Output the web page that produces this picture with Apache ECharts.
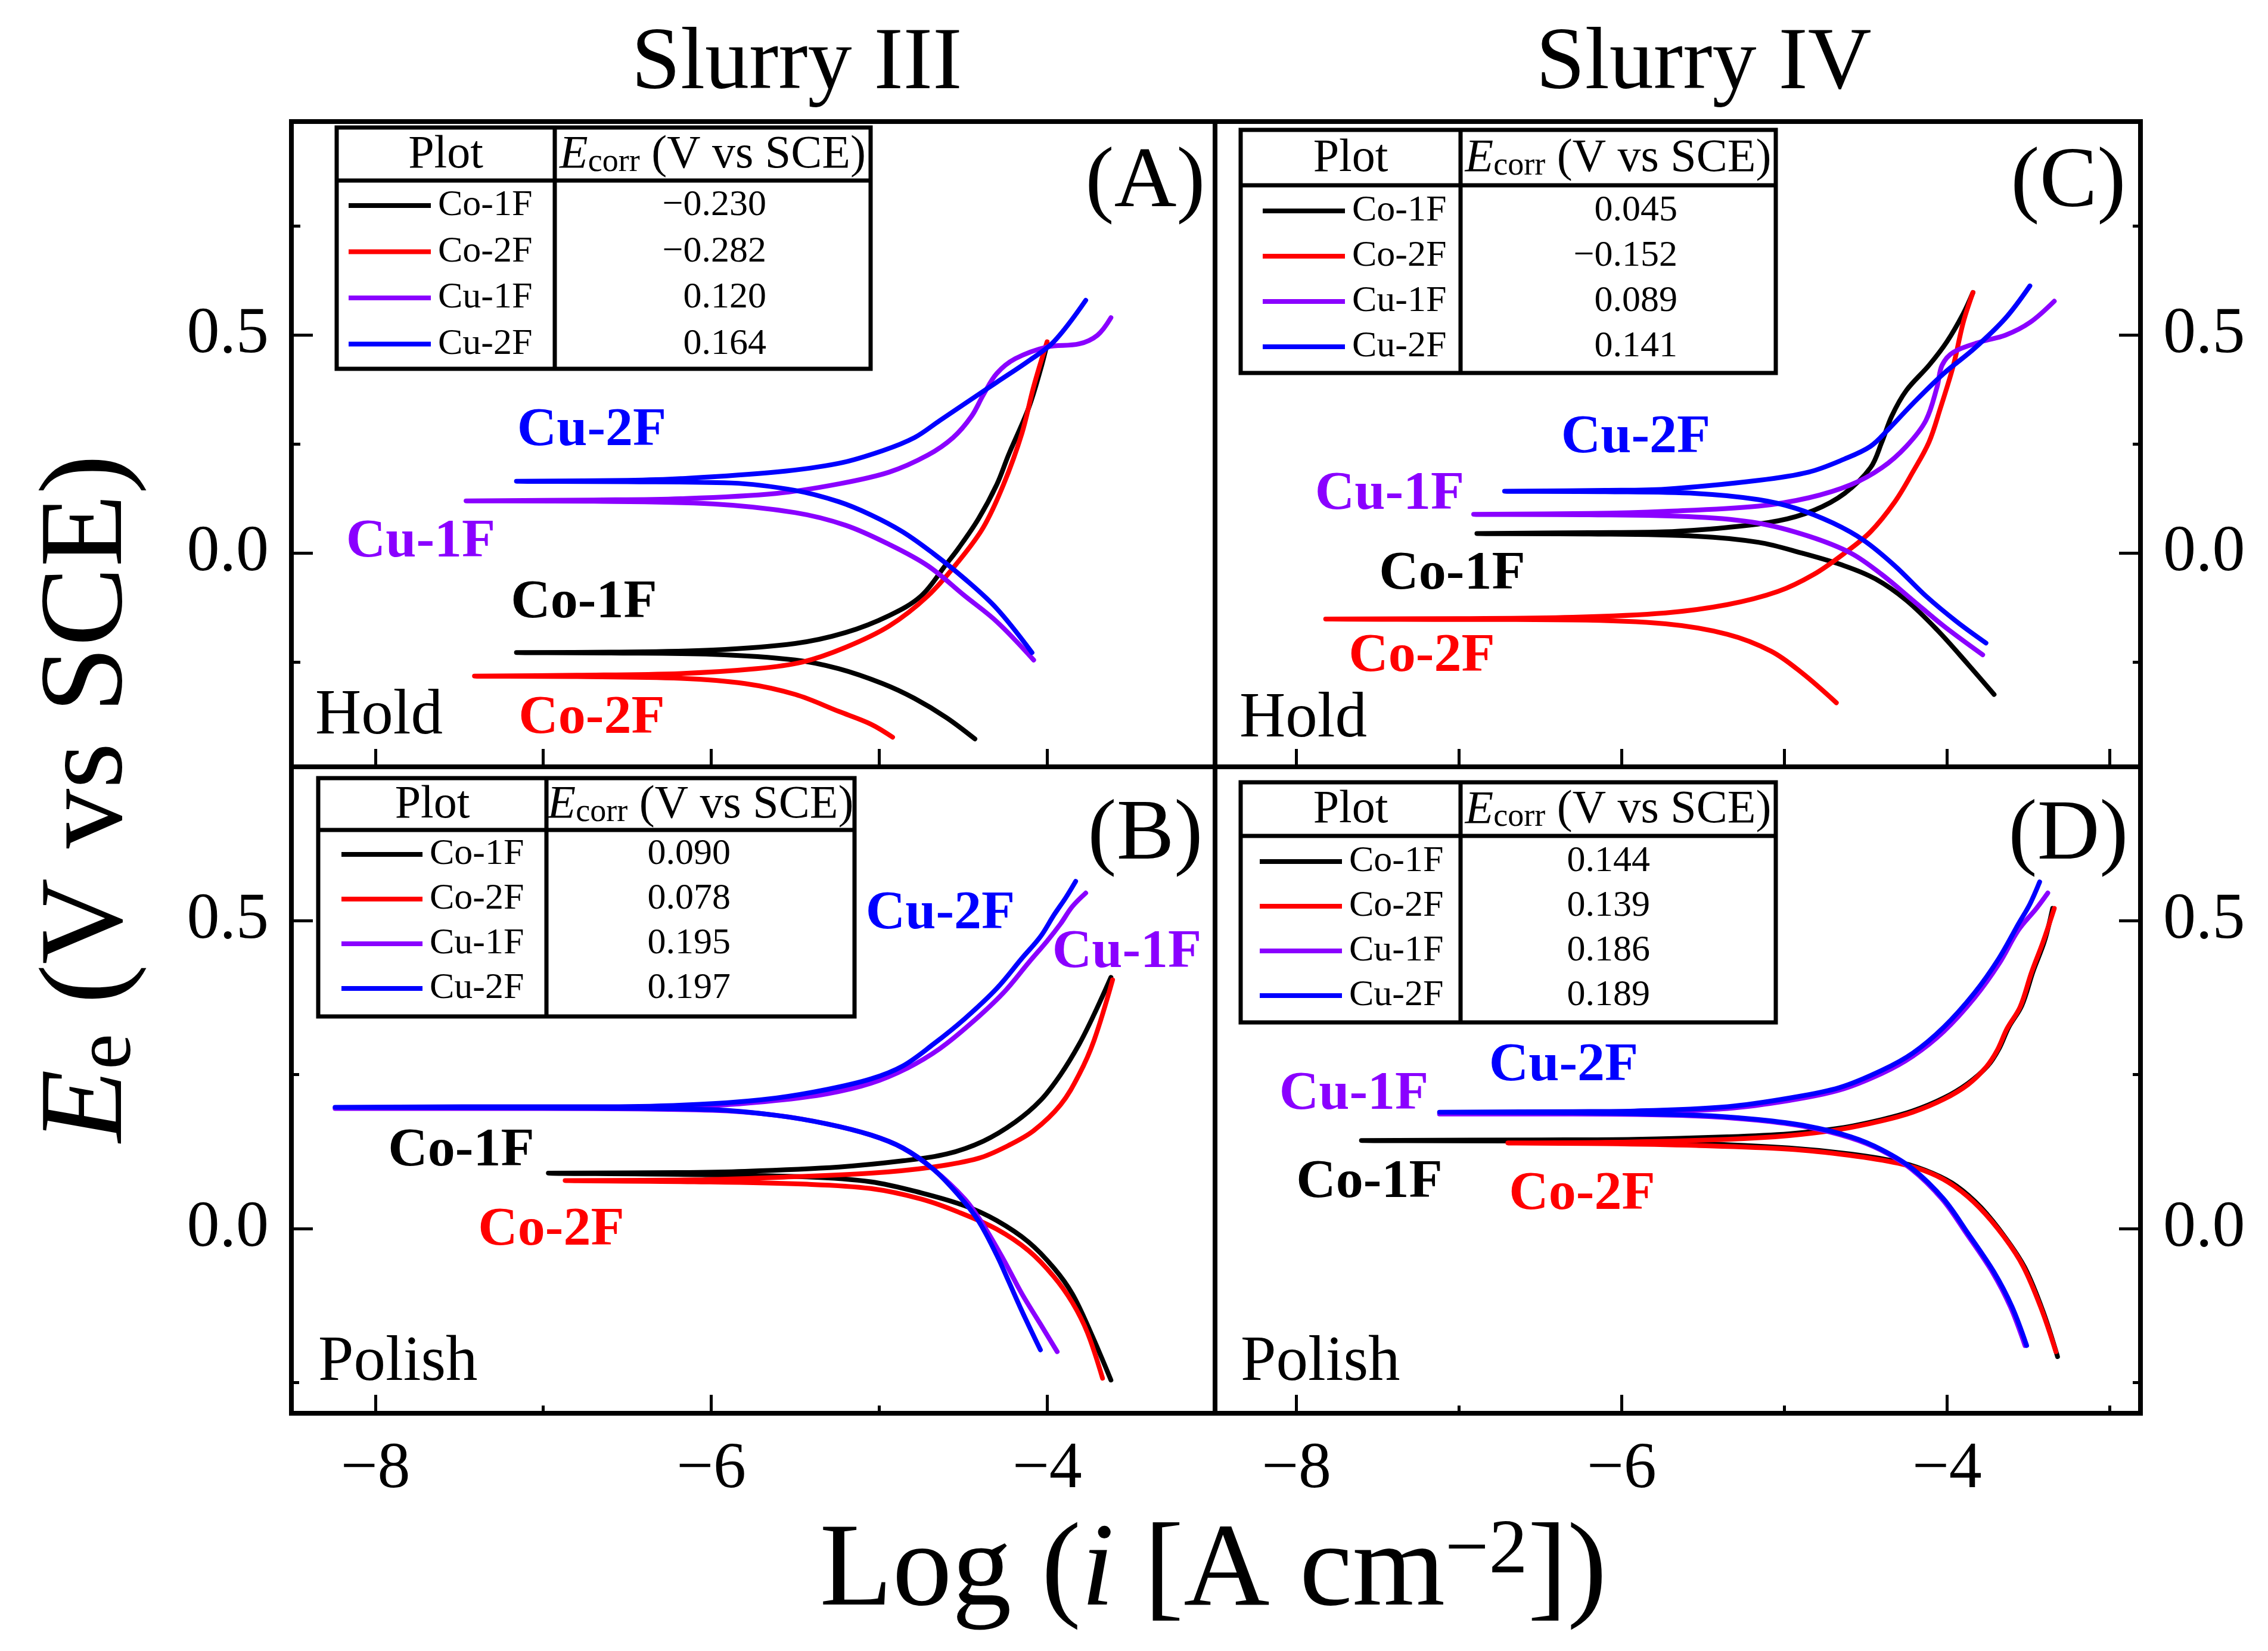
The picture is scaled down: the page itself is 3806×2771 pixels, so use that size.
<!DOCTYPE html>
<html><head><meta charset="utf-8">
<script src="https://cdn.jsdelivr.net/npm/echarts@6/dist/echarts.min.js"></script>
<style>html,body{margin:0;padding:0;background:#fff}#c{width:3806px;height:2771px}</style>
</head><body><div id="c"></div>
<script>
const FONT = '"Liberation Serif","Times New Roman",serif';

// ---- tick values ----
const xTicksAll = [-8, -7, -6, -5, -4, -3];
const xTicksMajor = [-8, -6, -4];
const xTicksMinor = [-7, -5, -3];
const yTicksMajor = [0, 0.5];
const yTicksMinorTop = [-0.25, 0.25, 0.75];
const yTicksMinorBottom = [-0.25, 0.25];

// ---- legend / table ----
const curveNames = ['Co-1F', 'Co-2F', 'Cu-1F', 'Cu-2F'];
const curveColors = ['#000000', '#ff0000', '#8a00ff', '#0000ff'];
const ecorrA = [-0.230, -0.282, 0.120, 0.164];
const ecorrB = [0.090, 0.078, 0.195, 0.197];
const ecorrC = [0.045, -0.152, 0.089, 0.141];
const ecorrD = [0.144, 0.139, 0.186, 0.189];

// ---- curves: [log i, E] from cathodic end -> Ecorr -> anodic end ----
// (A) Slurry III, Hold
const A_Co1F = [[-4.43,-0.426],[-4.60,-0.377],[-4.79,-0.333],[-4.98,-0.299],[-5.24,-0.265],[-5.50,-0.245],[-5.99,-0.232],[-6.6,-0.229],[-7.16,-0.228],
  [-6.6,-0.227],[-5.99,-0.222],[-5.50,-0.207],[-5.20,-0.182],[-4.94,-0.143],[-4.75,-0.098],[-4.60,-0.025],[-4.53,0.01],[-4.41,0.078],[-4.30,0.157],[-4.23,0.225],[-4.11,0.333],[-4.04,0.42],[-4.0,0.48]];
const A_Co2F = [[-4.92,-0.422],[-5.05,-0.392],[-5.24,-0.363],[-5.50,-0.324],[-5.80,-0.299],[-6.18,-0.287],[-6.8,-0.283],[-7.41,-0.282],
  [-6.8,-0.280],[-6.18,-0.276],[-5.73,-0.265],[-5.46,-0.25],[-5.20,-0.216],[-4.94,-0.167],[-4.71,-0.098],[-4.53,-0.02],[-4.38,0.059],[-4.26,0.157],[-4.15,0.275],[-4.08,0.382],[-4.0,0.485]];
const A_Cu1F = [[-4.08,-0.245],[-4.30,-0.157],[-4.49,-0.098],[-4.71,-0.029],[-4.94,0.02],[-5.20,0.064],[-5.50,0.093],[-5.99,0.113],[-6.7,0.119],[-7.46,0.12],
  [-6.7,0.122],[-6.18,0.125],[-5.615,0.137],[-5.24,0.159],[-4.94,0.186],[-4.71,0.225],[-4.56,0.265],[-4.45,0.314],[-4.38,0.363],[-4.30,0.412],[-4.19,0.446],[-4.0,0.473],[-3.81,0.48],[-3.70,0.50],[-3.62,0.54]];
const A_Cu2F = [[-4.09,-0.228],[-4.30,-0.127],[-4.49,-0.059],[-4.68,0.0],[-4.86,0.049],[-5.05,0.088],[-5.24,0.118],[-5.50,0.144],[-5.88,0.161],[-6.5,0.164],[-7.16,0.165],
  [-6.5,0.167],[-6.18,0.171],[-5.615,0.186],[-5.24,0.206],[-4.98,0.235],[-4.79,0.265],[-4.64,0.304],[-4.49,0.343],[-4.30,0.392],[-4.11,0.441],[-3.96,0.485],[-3.77,0.58]];

// (B) Slurry III, Polish
const B_Co1F = [[-3.62,-0.246],[-3.74,-0.169],[-3.85,-0.106],[-3.96,-0.064],[-4.11,-0.022],[-4.30,0.013],[-4.49,0.037],[-4.75,0.058],[-5.05,0.076],[-5.43,0.084],[-6.2,0.088],[-6.97,0.09],
  [-6.2,0.091],[-5.80,0.093],[-5.24,0.10],[-4.86,0.11],[-4.60,0.121],[-4.38,0.142],[-4.19,0.173],[-4.04,0.208],[-3.92,0.25],[-3.81,0.299],[-3.72,0.348],[-3.62,0.408]];
const B_Co2F = [[-3.67,-0.243],[-3.76,-0.169],[-3.85,-0.12],[-3.96,-0.078],[-4.11,-0.036],[-4.30,-0.001],[-4.53,0.027],[-4.75,0.048],[-5.05,0.065],[-5.43,0.072],[-6.1,0.076],[-6.87,0.078],
  [-6.1,0.079],[-5.615,0.083],[-5.05,0.09],[-4.68,0.10],[-4.41,0.114],[-4.23,0.135],[-4.08,0.159],[-3.92,0.201],[-3.81,0.25],[-3.72,0.306],[-3.61,0.404]];
const B_Cu1F = [[-3.94,-0.20],[-4.04,-0.155],[-4.15,-0.106],[-4.26,-0.05],[-4.38,0.006],[-4.49,0.048],[-4.68,0.097],[-4.86,0.131],[-5.05,0.152],[-5.31,0.170],[-5.615,0.184],[-5.99,0.192],[-7.0,0.195],[-8.24,0.195],
  [-7.0,0.196],[-5.99,0.20],[-5.615,0.208],[-5.31,0.219],[-5.05,0.236],[-4.83,0.261],[-4.64,0.292],[-4.45,0.334],[-4.26,0.383],[-4.11,0.432],[-4.0,0.467],[-3.92,0.495],[-3.85,0.523],[-3.77,0.545]];
const B_Cu2F = [[-4.04,-0.197],[-4.15,-0.134],[-4.23,-0.085],[-4.30,-0.043],[-4.41,0.013],[-4.53,0.055],[-4.68,0.097],[-4.86,0.131],[-5.05,0.152],[-5.31,0.170],[-5.615,0.184],[-5.99,0.193],[-7.0,0.196],[-8.24,0.197],
  [-7.0,0.198],[-6.55,0.198],[-5.99,0.203],[-5.615,0.212],[-5.31,0.226],[-5.05,0.243],[-4.86,0.264],[-4.68,0.299],[-4.49,0.341],[-4.30,0.390],[-4.15,0.439],[-4.04,0.474],[-3.96,0.509],[-3.89,0.537],[-3.83,0.564]];

// (C) Slurry IV, Hold
const C_Co1F = [[-3.71,-0.324],[-3.87,-0.255],[-4.06,-0.176],[-4.25,-0.108],[-4.44,-0.059],[-4.63,-0.029],[-4.89,0.0],[-5.16,0.025],[-5.54,0.039],[-6.2,0.044],[-6.89,0.045],
  [-6.2,0.047],[-5.73,0.049],[-5.35,0.059],[-5.04,0.074],[-4.82,0.098],[-4.63,0.137],[-4.47,0.196],[-4.40,0.255],[-4.34,0.314],[-4.25,0.373],[-4.11,0.431],[-4.0,0.485],[-3.90,0.549],[-3.84,0.598]];
const C_Co2F = [[-4.68,-0.343],[-4.89,-0.275],[-5.08,-0.225],[-5.35,-0.186],[-5.73,-0.162],[-6.30,-0.153],[-7.0,-0.152],[-7.82,-0.151],
  [-7.0,-0.150],[-6.30,-0.147],[-5.73,-0.137],[-5.35,-0.118],[-5.04,-0.088],[-4.82,-0.049],[-4.63,0.0],[-4.47,0.049],[-4.32,0.118],[-4.21,0.186],[-4.11,0.255],[-4.04,0.333],[-3.96,0.431],[-3.90,0.529],[-3.84,0.598]];
const C_Cu1F = [[-3.78,-0.233],[-4.02,-0.167],[-4.21,-0.108],[-4.40,-0.049],[-4.59,0.0],[-4.85,0.039],[-5.16,0.069],[-5.54,0.083],[-6.2,0.088],[-6.91,0.089],
  [-6.2,0.091],[-5.73,0.096],[-5.16,0.108],[-4.85,0.127],[-4.59,0.157],[-4.40,0.196],[-4.25,0.245],[-4.13,0.304],[-4.06,0.382],[-4.03,0.431],[-3.96,0.461],[-3.79,0.485],[-3.64,0.50],[-3.49,0.529],[-3.34,0.578]];
const C_Cu2F = [[-3.76,-0.206],[-3.94,-0.157],[-4.13,-0.098],[-4.32,-0.029],[-4.51,0.029],[-4.70,0.069],[-4.93,0.103],[-5.16,0.123],[-5.54,0.137],[-6.1,0.141],[-6.72,0.142],
  [-6.1,0.144],[-5.73,0.147],[-5.16,0.167],[-4.85,0.186],[-4.63,0.216],[-4.47,0.245],[-4.36,0.284],[-4.21,0.343],[-4.02,0.412],[-3.83,0.47],[-3.64,0.539],[-3.49,0.613]];

// (D) Slurry IV, Polish
const D_Co1F = [[-3.32,-0.208],[-3.41,-0.134],[-3.52,-0.064],[-3.64,-0.015],[-3.79,0.034],[-3.94,0.069],[-4.09,0.09],[-4.28,0.107],[-4.59,0.121],[-4.97,0.131],[-5.54,0.138],[-6.5,0.142],[-7.60,0.143],
  [-6.5,0.144],[-5.92,0.145],[-5.35,0.149],[-4.97,0.154],[-4.66,0.163],[-4.40,0.177],[-4.21,0.191],[-4.02,0.212],[-3.87,0.236],[-3.75,0.264],[-3.68,0.292],[-3.62,0.327],[-3.54,0.362],[-3.47,0.418],[-3.40,0.467],[-3.35,0.52]];
const D_Co2F = [[-3.33,-0.20],[-3.42,-0.13],[-3.53,-0.062],[-3.65,-0.013],[-3.80,0.034],[-3.95,0.068],[-4.10,0.09],[-4.30,0.106],[-4.60,0.119],[-4.97,0.129],[-5.54,0.135],[-6.1,0.138],[-6.70,0.139],
  [-6.1,0.140],[-5.35,0.145],[-4.97,0.151],[-4.66,0.161],[-4.40,0.175],[-4.21,0.189],[-4.02,0.21],[-3.87,0.234],[-3.76,0.262],[-3.69,0.29],[-3.63,0.325],[-3.55,0.36],[-3.48,0.416],[-3.41,0.465],[-3.34,0.52]];
const D_Cu1F = [[-3.52,-0.19],[-3.61,-0.127],[-3.72,-0.071],[-3.88,-0.008],[-4.03,0.048],[-4.22,0.097],[-4.41,0.128],[-4.60,0.148],[-4.86,0.165],[-5.17,0.176],[-5.55,0.183],[-6.3,0.186],[-7.12,0.186],
  [-6.3,0.187],[-5.92,0.188],[-5.35,0.195],[-4.97,0.208],[-4.66,0.225],[-4.40,0.252],[-4.21,0.280],[-4.02,0.320],[-3.83,0.375],[-3.68,0.43],[-3.56,0.485],[-3.45,0.52],[-3.38,0.545]];
const D_Cu2F = [[-3.51,-0.19],[-3.60,-0.127],[-3.71,-0.071],[-3.87,-0.008],[-4.02,0.048],[-4.21,0.097],[-4.40,0.128],[-4.59,0.149],[-4.85,0.166],[-5.16,0.177],[-5.54,0.184],[-6.3,0.188],[-7.12,0.189],
  [-6.3,0.190],[-5.92,0.191],[-5.35,0.198],[-4.97,0.212],[-4.66,0.229],[-4.40,0.257],[-4.21,0.285],[-4.02,0.327],[-3.83,0.383],[-3.68,0.439],[-3.56,0.495],[-3.49,0.527],[-3.43,0.563]];

// ---------------------------------------------------------------
const chart = echarts.init(document.getElementById('c'), null, {renderer: 'canvas'});

const GL = 489, GM = 2039, GR = 3592, GT = 204, GMID = 1287, GB = 2372;
const grids = [
  {left: GL, top: GT, width: GM - GL, height: GMID - GT},     // A
  {left: GL, top: GMID, width: GM - GL, height: GB - GMID},   // B
  {left: GM, top: GT, width: GR - GM, height: GMID - GT},     // C
  {left: GM, top: GMID, width: GR - GM, height: GB - GMID}    // D
].map(g => Object.assign(g, {show: true, borderColor: '#000', borderWidth: 8, backgroundColor: 'transparent'}));

const minus = v => String(v).replace('-', '\u2212');
function xAx(grid, max, ticks, len, labels) {
  return {
    type: 'value', gridIndex: grid, min: -8.5, max: max, position: 'bottom',
    axisLine: {show: false, onZero: false}, splitLine: {show: false},
    axisTick: {show: true, inside: true, length: len, customValues: ticks, lineStyle: {color: '#000', width: 5}},
    axisLabel: {show: !!labels, customValues: labels || ticks, margin: 40, fontFamily: FONT, fontSize: 110, color: '#000', formatter: minus}
  };
}
function yAx(grid, pos, min, max, ticks, len, labels) {
  return {
    type: 'value', gridIndex: grid, min: min, max: max, position: pos,
    axisLine: {show: false, onZero: false}, splitLine: {show: false},
    axisTick: {show: true, inside: true, length: len, customValues: ticks, lineStyle: {color: '#000', width: 5}},
    axisLabel: {show: !!labels, customValues: labels || ticks, margin: 38, fontFamily: FONT, fontSize: 110, color: '#000', formatter: v => v.toFixed(1)}
  };
}
const xAxes = [
  xAx(0, -3, xTicksAll, 30),                 // 0 A
  xAx(1, -3, xTicksMajor, 31, xTicksMajor),  // 1 B major
  xAx(1, -3, xTicksMinor, 13),               // 2 B minor
  xAx(2, -2.81, xTicksAll, 30),              // 3 C
  xAx(3, -2.81, xTicksMajor, 31, xTicksMajor), // 4 D major
  xAx(3, -2.81, xTicksMinor, 13)             // 5 D minor
];
const yAxes = [
  yAx(0, 'left', -0.49, 0.99, yTicksMajor, 36, yTicksMajor),   // 0 A
  yAx(0, 'left', -0.49, 0.99, yTicksMinorTop, 15),             // 1
  yAx(1, 'left', -0.30, 0.75, yTicksMajor, 36, yTicksMajor),   // 2 B
  yAx(1, 'left', -0.30, 0.75, yTicksMinorBottom, 13),          // 3
  yAx(2, 'right', -0.49, 0.99, yTicksMajor, 36, yTicksMajor),  // 4 C
  yAx(2, 'right', -0.49, 0.99, yTicksMinorTop, 13),            // 5
  yAx(3, 'right', -0.30, 0.75, yTicksMajor, 36, yTicksMajor),  // 6 D
  yAx(3, 'right', -0.30, 0.75, yTicksMinorBottom, 13)          // 7
];

const panels = [
  {x: 0, y: 0, curves: [A_Co1F, A_Co2F, A_Cu1F, A_Cu2F]},
  {x: 1, y: 2, curves: [B_Co1F, B_Co2F, B_Cu1F, B_Cu2F]},
  {x: 3, y: 4, curves: [C_Co1F, C_Co2F, C_Cu1F, C_Cu2F]},
  {x: 4, y: 6, curves: [D_Co1F, D_Co2F, D_Cu1F, D_Cu2F]}
];
const series = [];
panels.forEach(p => p.curves.forEach((d, i) => series.push({
  type: 'line', name: curveNames[i], xAxisIndex: p.x, yAxisIndex: p.y, data: d,
  showSymbol: false, smooth: 0.35, animation: false, z: 3 + i,
  lineStyle: {color: curveColors[i], width: 8, cap: 'round', join: 'round'}, itemStyle: {color: curveColors[i]}
})));

// ---------------- graphics ----------------
const G = [];
function txt(x, y, text, size, opts) {
  opts = opts || {};
  G.push({type: 'text', x: x, y: y, rotation: opts.rotation || 0, z: 50, style: {
    text: text, fontFamily: FONT, fontSize: size, fontWeight: opts.bold ? 'bold' : 'normal',
    fontStyle: opts.italic ? 'italic' : 'normal',
    fill: opts.color || '#000', align: opts.align || 'center', textAlign: opts.align || 'center',
    verticalAlign: 'middle', textVerticalAlign: 'middle', rich: opts.rich
  }});
}
function table(x, y, w, h, headH, divX, rowOff, rowStep, lx0, lx1, labX, valRight, vals) {
  G.push({type: 'rect', z: 40, shape: {x: x, y: y, width: w, height: h}, style: {fill: '#fff', stroke: '#000', lineWidth: 7}});
  G.push({type: 'line', z: 41, shape: {x1: x, y1: y + headH, x2: x + w, y2: y + headH}, style: {stroke: '#000', lineWidth: 7}});
  G.push({type: 'line', z: 41, shape: {x1: x + divX, y1: y, x2: x + divX, y2: y + h}, style: {stroke: '#000', lineWidth: 7}});
  txt(x + divX / 2, y + headH / 2 + 2, 'Plot', 78);
  txt(x + divX + (w - divX) / 2, y + headH / 2 + 2, '{it|E}{sub|corr}{n| (V vs SCE)}', 78, {rich: {
    it: {fontFamily: FONT, fontSize: 78, fontStyle: 'italic', verticalAlign: 'middle'},
    sub: {fontFamily: FONT, fontSize: 54, verticalAlign: 'bottom', lineHeight: 60},
    n: {fontFamily: FONT, fontSize: 78, verticalAlign: 'middle'}
  }});
  vals.forEach((v, i) => {
    const yc = y + headH + rowOff + i * rowStep;
    G.push({type: 'line', z: 41, shape: {x1: x + lx0, y1: yc, x2: x + lx1, y2: yc}, style: {stroke: curveColors[i], lineWidth: 8}});
    txt(x + labX, yc, curveNames[i], 62, {align: 'left'});
    txt(valRight, yc, v.toFixed(3).replace('-', '\u2212'), 62, {align: 'right'});
  });
}
table(565, 214, 896, 405, 89, 366, 42, 77.5, 20, 158, 170, 1286, ecorrA);
table(534, 1306, 900, 400, 87, 383, 41, 75, 39, 175, 187, 1226, ecorrB);
table(2082, 218, 898, 408, 93, 369, 43, 76, 37, 175, 187, 2815, ecorrC);
table(2082, 1313, 898, 403, 90, 369, 43, 75, 32, 170, 182, 2769, ecorrD);

// titles
txt(1337, 109, 'Slurry III', 148);
txt(2859, 109, 'Slurry IV', 148);
// axis titles
txt(2036, 2640, '{n|Log (}{it|i}{n| [A cm}{sup|\u22122}{n|])}', 200, {rich: {
  n: {fontFamily: FONT, fontSize: 200, verticalAlign: 'middle'},
  it: {fontFamily: FONT, fontSize: 200, fontStyle: 'italic', verticalAlign: 'middle'},
  sup: {fontFamily: FONT, fontSize: 130, verticalAlign: 'top', lineHeight: 130}
}});
txt(150, 1340, '{it|E}{sub|e}{n| (V vs SCE)}', 200, {rotation: Math.PI / 2, rich: {
  it: {fontFamily: FONT, fontSize: 200, fontStyle: 'italic', verticalAlign: 'middle'},
  sub: {fontFamily: FONT, fontSize: 135, verticalAlign: 'bottom', lineHeight: 150},
  n: {fontFamily: FONT, fontSize: 200, verticalAlign: 'middle'}
}});
// panel letters
txt(1922, 308, '(A)', 145); txt(1922, 1403, '(B)', 145);
txt(3471, 308, '(C)', 145); txt(3471, 1403, '(D)', 145);
txt(529, 1203, 'Hold', 107, {align: 'left'});
txt(2080, 1208, 'Hold', 107, {align: 'left'});
txt(534, 2288, 'Polish', 107, {align: 'left'});
txt(2082, 2288, 'Polish', 107, {align: 'left'});
// curve labels
function clab(x, y, i) { txt(x, y, curveNames[i], 92, {bold: true, color: curveColors[i]}); }
clab(993, 723, 3); clab(706, 910, 2); clab(980, 1012, 0); clab(993, 1206, 1);
clab(1578, 1534, 3); clab(1891, 1599, 2); clab(774, 1932, 0); clab(925, 2065, 1);
clab(2745, 735, 3); clab(2332, 830, 2); clab(2437, 964, 0); clab(2386, 1102, 1);
clab(2624, 1789, 3); clab(2272, 1837, 2); clab(2298, 1985, 0); clab(2655, 2005, 1);

chart.setOption({
  animation: false,
  backgroundColor: '#fff',
  grid: grids,
  xAxis: xAxes,
  yAxis: yAxes,
  series: series,
  graphic: {elements: G}
});
</script></body></html>
